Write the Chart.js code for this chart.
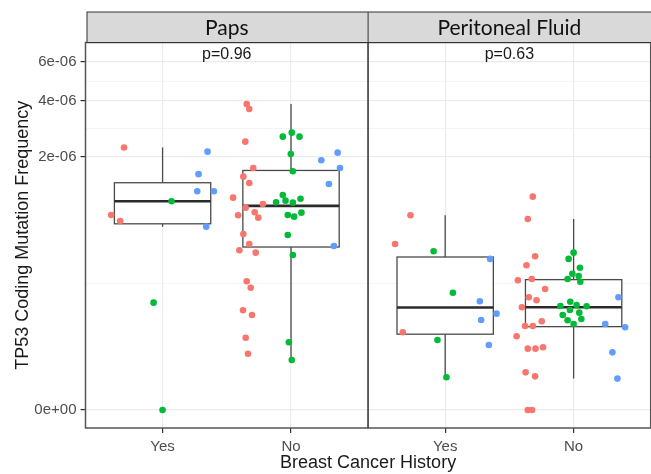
<!DOCTYPE html>
<html>
<head>
<meta charset="utf-8">
<script src="https://cdn.jsdelivr.net/npm/chart.js@4.4.0/dist/chart.umd.min.js"></script>
<style>
  html, body { margin: 0; padding: 0; background: #fff; overflow: hidden; }
  #wrap { width: 654px; height: 474px; }
</style>
</head>
<body>
<div id="wrap"><canvas id="myChart" width="654" height="474"></canvas></div>
<script>
var panels = ['Paps', 'Peritoneal Fluid'];
var pLabels = ['p=0.96', 'p=0.63'];
var categories = ['Yes', 'No'];
var yTickValues = [0, 2e-6, 4e-6, 6e-6];
var yTickLabels = ['0e+00', '2e-06', '4e-06', '6e-06'];
var groupColors = ['#F8766D', '#00BA38', '#619CFF'];

// mutation frequency values are written in units of 1e-6
// group: 0 = red, 1 = green, 2 = blue ; jit = horizontal jitter (category units)
var papsYesVal = [2.27, 2.15, 1.57, 1.21, 1.21, 1.03, 0.815, 0.732, 0.659, 0.104, 0];
var papsYesGrp = [0, 2, 2, 2, 2, 1, 0, 0, 2, 1, 1];
var papsYesJit = [-0.30, 0.35, 0.28, 0.27, 0.40, 0.07, -0.40, -0.33, 0.34, -0.07, 0.00];

var papsNoVal = [3.855, 3.642, 2.745, 2.611, 2.611, 2.450, 2.084, 2.121, 1.913, 1.717, 1.717, 1.637,
    1.513, 1.377, 1.356, 1.093, 1.141, 1.075, 1.013, 1.041, 1.007, 0.985, 0.925, 0.849, 0.815, 0.791,
    0.855, 0.811, 0.777, 0.573, 0.561, 0.468, 0.449, 0.410, 0.389, 0.369, 0.195, 0.163, 0.0807,
    0.0683, 0.0266, 0.0212, 0.0112, 0.0075];
var papsNoGrp = [0, 0, 1, 1, 1, 0, 1, 2, 2, 2, 0, 1, 0, 0, 2, 0, 1, 1, 1, 1, 1, 0, 0, 1, 1, 1,
    0, 0, 0, 0, 1, 0, 2, 0, 0, 1, 0, 0, 0, 0, 0, 1, 0, 1];
var papsNoJit = [-0.345, -0.325, 0.006, -0.064, 0.066, -0.356, -0.002, 0.363, 0.236, 0.381, -0.294,
    0.014, -0.371, -0.325, 0.295, -0.451, -0.064, 0.074, -0.116, -0.043, 0.014, -0.219, -0.353, 0.081,
    -0.025, 0.024, -0.283, -0.412, -0.255, -0.371, -0.025, -0.325, 0.334, -0.402, -0.275, 0.014,
    -0.345, -0.314, -0.374, -0.304, -0.353, -0.017, -0.335, 0.006];

var fluidYesVal = [0.811, 0.468, 0.401, 0.338, 0.141, 0.109, 0.0716, 0.0567, 0.0342, 0.0238, 0.0185, 0.00173];
var fluidYesGrp = [0, 0, 1, 2, 1, 2, 2, 2, 0, 1, 2, 1];
var fluidYesJit = [-0.27, -0.39, -0.09, 0.35, 0.06, 0.27, 0.40, 0.28, -0.33, -0.06, 0.34, 0.01];

var fluidNoVal = [1.111, 0.759, 0.359, 0.389, 0.338, 0.2914, 0.2751, 0.2371, 0.2236, 0.2068, 0.1998,
    0.2068, 0.1925, 0.1573, 0.1231, 0.1231, 0.1122, 0.0894, 0.1073, 0.0933, 0.0965, 0.0924, 0.0815,
    0.0683, 0.0742, 0.0589, 0.0560, 0.0485, 0.0539, 0.0447, 0.0447, 0.0485, 0.0423, 0.0285, 0.0151,
    0.0151, 0.0163, 0.0122, 0.0028, 0.0019, 0.0015, 0, 0];
var fluidNoGrp = [0, 0, 0, 1, 1, 0, 1, 1, 1, 1, 0, 0, 1, 0, 2, 0, 0, 0, 1, 1, 1, 1, 1, 1, 1, 1, 1, 1,
    0, 0, 0, 2, 2, 0, 0, 0, 0, 2, 0, 0, 2, 0, 0];
var fluidNoJit = [-0.318, -0.357, -0.300, 0, -0.039, -0.367, 0.049, -0.010, 0.039, -0.047, -0.434,
    -0.326, 0.052, -0.222, 0.349, -0.349, -0.289, -0.403, -0.026, -0.103, 0.023, 0.101, -0.029, -0.085,
    0.044, 0.060, -0.047, 0, -0.248, -0.378, -0.318, 0.246, 0.401, -0.444, -0.357, -0.297, -0.238,
    0.302, -0.374, -0.300, 0.341, -0.357, -0.324];

var cells = [
    { panel: 0, cat: 0, val: papsYesVal, grp: papsYesGrp, jit: papsYesJit },
    { panel: 0, cat: 1, val: papsNoVal, grp: papsNoGrp, jit: papsNoJit },
    { panel: 1, cat: 0, val: fluidYesVal, grp: fluidYesGrp, jit: fluidYesJit },
    { panel: 1, cat: 1, val: fluidNoVal, grp: fluidNoGrp, jit: fluidNoJit }
];

// y axis uses a power transform of the frequency
function tr(v) { return Math.pow(v / 1e-6, 0.29); }
function xPos(panel, cat) { return panel * 2.2 + cat + 1; }
var boxWidth = 0.75;

function quantile(s, p) {
    var h = (s.length - 1) * p, lo = Math.floor(h);
    return s[lo] + (h - lo) * ((s[lo + 1] !== undefined ? s[lo + 1] : s[lo]) - s[lo]);
}

// boxplot stats (computed on the transformed scale, like ggplot)
cells.forEach(function (c) {
    var s = c.val.map(function (v) { return tr(v * 1e-6); }).sort(function (a, b) { return a - b; });
    var q1 = quantile(s, 0.25), q3 = quantile(s, 0.75), iqr = q3 - q1;
    c.stats = {
        q1: q1, med: quantile(s, 0.5), q3: q3,
        lo: Math.min.apply(null, s.filter(function (t) { return t >= q1 - 1.5 * iqr; })),
        hi: Math.max.apply(null, s.filter(function (t) { return t <= q3 + 1.5 * iqr; }))
    };
});

var datasets = groupColors.map(function (col, g) {
    var pts = [];
    cells.forEach(function (c) {
        c.val.forEach(function (v, i) {
            if (c.grp[i] === g) pts.push({ x: xPos(c.panel, c.cat) + c.jit[i], y: tr(v * 1e-6) });
        });
    });
    return {
        data: pts, backgroundColor: col, borderWidth: 0,
        pointRadius: 3.3, pointHoverRadius: 3.3, showLine: false
    };
});

var majorT = yTickValues.map(tr);
var yTicks = [];
majorT.forEach(function (t, i) {
    yTicks.push({ value: t, lbl: yTickLabels[i] });
    var next = i < majorT.length - 1 ? majorT[i + 1] : t + (t - majorT[i - 1]);
    yTicks.push({ value: (t + next) / 2, minor: true, lbl: '' });
});

var facetPlugin = {
    id: 'facets',
    beforeDatasetsDraw: function (chart) {
        var ctx = chart.ctx, xs = chart.scales.x, ys = chart.scales.y;
        ctx.save();
        cells.forEach(function (c) {
            var cx = xs.getPixelForValue(xPos(c.panel, c.cat));
            var l = xs.getPixelForValue(xPos(c.panel, c.cat) - boxWidth / 2);
            var r = xs.getPixelForValue(xPos(c.panel, c.cat) + boxWidth / 2);
            var st = c.stats;
            ctx.strokeStyle = '#4a4a4a';
            ctx.lineWidth = 1.3;
            ctx.beginPath();
            ctx.moveTo(cx, ys.getPixelForValue(st.q3)); ctx.lineTo(cx, ys.getPixelForValue(st.hi));
            ctx.moveTo(cx, ys.getPixelForValue(st.q1)); ctx.lineTo(cx, ys.getPixelForValue(st.lo));
            ctx.stroke();
            ctx.fillStyle = '#fff';
            var top = ys.getPixelForValue(st.q3), bot = ys.getPixelForValue(st.q1);
            ctx.fillRect(l, top, r - l, bot - top);
            ctx.strokeRect(l, top, r - l, bot - top);
            ctx.strokeStyle = '#2b2b2b';
            ctx.lineWidth = 2.6;
            ctx.beginPath();
            ctx.moveTo(l, ys.getPixelForValue(st.med)); ctx.lineTo(r, ys.getPixelForValue(st.med));
            ctx.stroke();
        });
        ctx.restore();
    },
    afterDraw: function (chart) {
        var ctx = chart.ctx, xs = chart.scales.x, a = chart.chartArea;
        var split = xs.getPixelForValue(2.6);
        ctx.save();
        // panel borders
        ctx.strokeStyle = '#555';
        ctx.lineWidth = 1.5;
        ctx.strokeRect(a.left, a.top, split - a.left, a.bottom - a.top);
        ctx.strokeRect(split, a.top, a.right - split, a.bottom - a.top);
        // strips
        ctx.fillStyle = '#D9D9D9';
        ctx.fillRect(a.left + 1.5, 12, chart.width, a.top - 12);
        ctx.strokeStyle = '#333';
        ctx.lineWidth = 1;
        ctx.strokeRect(a.left + 1.5, 12, chart.width, a.top - 12);
        ctx.beginPath();
        ctx.moveTo(split, 12); ctx.lineTo(split, a.top);
        ctx.stroke();
        ctx.fillStyle = '#111';
        ctx.textAlign = 'center';
        ctx.textBaseline = 'middle';
        ctx.font = '21px Lato, "Open Sans", sans-serif';
        panels.forEach(function (p, i) {
            ctx.fillText(p, xs.getPixelForValue(i * 2.2 + 1.5), (12 + a.top) / 2 + 1);
        });
        ctx.font = '16px "Liberation Sans", Arial, sans-serif';
        ctx.fillStyle = '#1a1a1a';
        pLabels.forEach(function (p, i) {
            ctx.fillText(p, xs.getPixelForValue(i * 2.2 + 1.5), a.top + 12);
        });
        ctx.restore();
    }
};

var tickFont = { family: '"Liberation Sans", Arial, sans-serif', size: 15 };
var titleFont = { family: '"Liberation Sans", Arial, sans-serif', size: 18 };

var ctx = document.getElementById('myChart').getContext('2d');
var myChart = new Chart(ctx, {
    type: 'scatter',
    data: { datasets: datasets },
    plugins: [facetPlugin],
    options: {
        responsive: false,
        animation: false,
        layout: { padding: { top: 42.5, right: 1, left: 0, bottom: 0 } },
        plugins: { legend: { display: false }, tooltip: { enabled: false } },
        scales: {
            x: {
                type: 'linear', min: 0.4, max: 4.8,
                afterBuildTicks: function (scale) {
                    scale.ticks = [0, 1].reduce(function (acc, p) {
                        return acc.concat(categories.map(function (c, j) {
                            return { value: xPos(p, j), lbl: c };
                        }));
                    }, []);
                },
                afterFit: function (scale) { scale.height = 46; },
                ticks: {
                    autoSkip: false, maxRotation: 0, padding: 5, color: '#4D4D4D', font: tickFont,
                    callback: function (v, i, ticks) { return ticks[i].lbl; }
                },
                grid: { color: '#EBEBEB', lineWidth: 1.2, tickColor: '#333', tickLength: 5 },
                border: { display: false },
                title: {
                    display: true, text: 'Breast Cancer History', color: '#1a1a1a', font: titleFont,
                    padding: { top: 0, bottom: 0 }
                }
            },
            y: {
                type: 'linear', min: -0.087, max: 1.776,
                afterBuildTicks: function (scale) {
                    scale.ticks = yTicks.map(function (t) { return { value: t.value, minor: t.minor, lbl: t.lbl }; });
                },
                afterFit: function (scale) { scale.width = 85.5; },
                ticks: {
                    autoSkip: false, padding: 4, color: '#4D4D4D', font: tickFont,
                    callback: function (v, i, ticks) { return ticks[i].lbl; }
                },
                grid: {
                    color: function (c) { return c.tick && c.tick.minor ? '#F3F3F3' : '#EBEBEB'; },
                    lineWidth: function (c) { return c.tick && c.tick.minor ? 0.9 : 1.2; },
                    tickColor: function (c) { return c.tick && c.tick.minor ? 'rgba(0,0,0,0)' : '#333'; },
                    tickLength: 5
                },
                border: { display: false },
                title: {
                    display: true, text: 'TP53 Coding Mutation Frequency', color: '#1a1a1a', font: titleFont,
                    padding: { top: 12, bottom: 0 }
                }
            }
        }
    }
});
</script>
</body>
</html>
